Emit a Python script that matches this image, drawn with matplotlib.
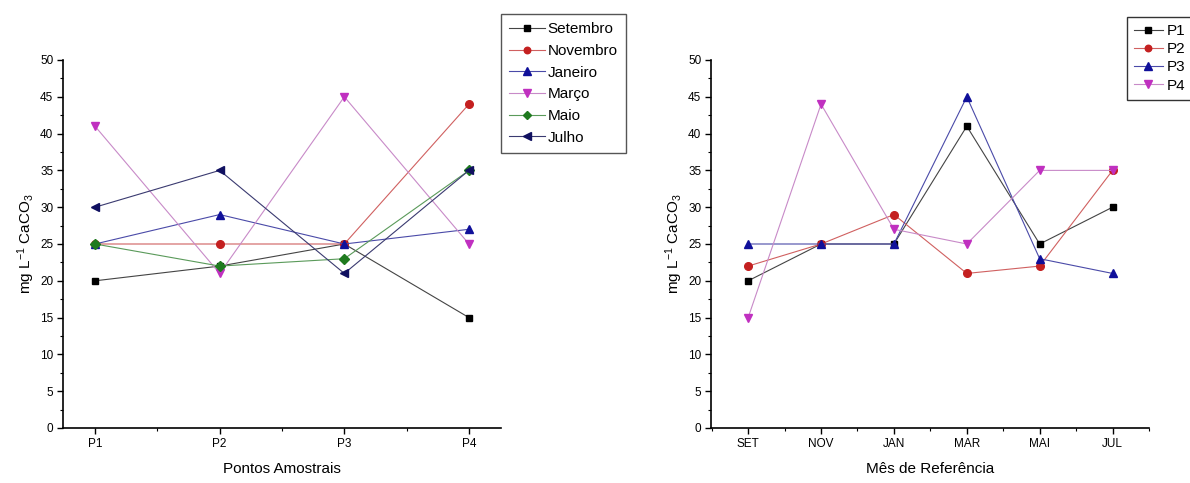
import matplotlib.pyplot as plt
import numpy as np
from matplotlib.ticker import MultipleLocator

plt.rcParams['font.family'] = ['Liberation Sans', 'DejaVu Sans']
plt.rcParams['mathtext.fontset'] = 'custom'
plt.rcParams['mathtext.rm'] = 'Liberation Sans'
plt.rcParams['mathtext.default'] = 'regular'

pontos = ['P1', 'P2', 'P3', 'P4']
meses = ['Setembro', 'Novembro', 'Janeiro', 'Março', 'Maio', 'Julho']
meses_abrev = ['SET', 'NOV', 'JAN', 'MAR', 'MAI', 'JUL']

# mg/L CaCO3 at P1..P4 for each month
setembro = [20, 22, 25, 15]
novembro = [25, 25, 25, 44]
janeiro = [25, 29, 25, 27]
marco = [41, 21, 45, 25]
maio = [25, 22, 23, 35]
julho = [30, 35, 21, 35]

tabela = np.array([setembro, novembro, janeiro, marco, maio, julho])

cores_mes = ['#000000', '#c42020', '#10109a', '#c030c0', '#1f7a1f', '#101060']
linhas_mes = ['#444444', '#d06060', '#4a4aa8', '#c88ac8', '#5a9a5a', '#3a3a70']
marc_mes = ['s', 'o', '^', 'v', 'D', '<']
tam_mes = [5, 5.5, 6, 6, 5, 6]

cores_p = cores_mes[:4]
linhas_p = linhas_mes[:4]
marc_p = marc_mes[:4]
tam_p = tam_mes[:4]

fig = plt.figure(figsize=(11.9, 4.83), dpi=100)
ax1 = fig.add_axes([63 / 1190, 1 - 428 / 483, (501 - 63) / 1190, 368 / 483])
ax2 = fig.add_axes([711 / 1190, 1 - 428 / 483, (1149 - 711) / 1190, 368 / 483])

x1 = np.arange(1, len(pontos) + 1)
for i, nome in enumerate(meses):
    ax1.plot(x1, tabela[i], color=linhas_mes[i], lw=0.8,
             marker=marc_mes[i], ms=tam_mes[i], mfc=cores_mes[i], mec=cores_mes[i],
             label=nome)

x2 = np.arange(1, len(meses_abrev) + 1)
for j, nome in enumerate(pontos):
    ax2.plot(x2, tabela[:, j], color=linhas_p[j], lw=0.8,
             marker=marc_p[j], ms=tam_p[j], mfc=cores_p[j], mec=cores_p[j],
             label=nome)

for ax, labels, xl in [(ax1, pontos, 'Pontos Amostrais'), (ax2, meses_abrev, 'Mês de Referência')]:
    n = len(labels)
    ax.set_xlim(1 - 0.257 if n == 4 else 0.49, n + 0.257 if n == 4 else n + 0.5)
    ax.set_ylim(0, 50)
    ax.set_xticks(np.arange(1, n + 1))
    ax.set_xticklabels(labels)
    ax.xaxis.set_minor_locator(MultipleLocator(0.5))
    ax.yaxis.set_major_locator(MultipleLocator(5))
    ax.yaxis.set_minor_locator(MultipleLocator(2.5))
    ax.spines['top'].set_visible(False)
    ax.spines['right'].set_visible(False)
    ax.spines['left'].set_linewidth(1.2)
    ax.spines['bottom'].set_linewidth(1.2)
    ax.tick_params(which='major', direction='out', length=4, width=1, labelsize=8.5, pad=3)
    ax.tick_params(which='minor', direction='out', length=2.5, width=0.8)
    ax.set_xlabel(xl, fontsize=11, labelpad=9)
    ax.set_ylabel('mg L$^{-1}$ CaCO$_3$', fontsize=11, labelpad=2)

fig.legend(*ax1.get_legend_handles_labels(), loc='upper left',
           bbox_to_anchor=(501 / 1190, 1 - 14 / 483), fontsize=11,
           frameon=True, fancybox=False, edgecolor='#555555', framealpha=1,
           handlelength=2.3, handletextpad=0.2, labelspacing=0.5,
           borderpad=0.55, borderaxespad=0, markerscale=0.85)
fig.legend(*ax2.get_legend_handles_labels(), loc='upper left',
           bbox_to_anchor=(1127 / 1190, 1 - 17 / 483), fontsize=11,
           frameon=True, fancybox=False, edgecolor='#333333', framealpha=1,
           handlelength=1.9, handletextpad=0.25, labelspacing=0.28,
           borderpad=0.45, borderaxespad=0, markerscale=0.85)

plt.savefig('out.png', dpi=100)
